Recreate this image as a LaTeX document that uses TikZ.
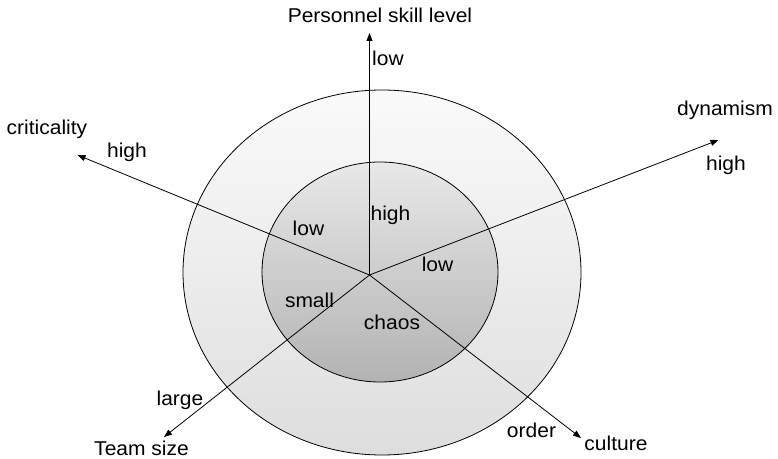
\documentclass[tikz,border=0pt]{standalone}
\usepackage{fontspec}
\setmainfont[FakeStretch=1.05]{Liberation Sans}
\usetikzlibrary{arrows.meta}
\begin{document}
\begin{tikzpicture}[x=1pt,y=1pt,
  lbl/.style={font=\fontsize{20}{24}\selectfont, inner sep=0pt},
  axis/.style={line width=0.8pt, -{Triangle[length=8pt,width=6pt]}},
  ring/.style={draw=black, line width=0.8pt}]
\useasboundingbox (0,0) rectangle (778,458);
% rings
\shade[ring, top color=black!2, bottom color=black!13] (382,185.5) ellipse [x radius=199, y radius=182.5];
\shade[ring, top color=black!9, bottom color=black!30] (380,186) ellipse [x radius=118, y radius=110];
% axis points
\coordinate (O) at (369.5,183);
\coordinate (skill) at (369.5,425);
\coordinate (crit) at (77.5,303);
\coordinate (dyn) at (718.5,318);
\coordinate (team) at (164,21);
\coordinate (cult) at (581,20);
\draw[axis] (O) -- (skill);
\draw[axis] (O) -- (crit);
\draw[axis] (O) -- (dyn);
\draw[axis] (O) -- (team);
\draw[axis] (O) -- (cult);
% labels
\node[lbl] (tskill) at (380,443) {Personnel skill level};
\node[lbl, anchor=west] (lskill) at (372,400) {low};
\node[lbl] (tcrit) at (47,329) {criticality};
\node[lbl] (hcrit) at (127,306) {high};
\node[lbl] (tdyn) at (725,348) {dynamism};
\node[lbl] (hdyn) at (726,293) {high};
\node[lbl] (lteam) at (180,58) {large};
\node[lbl] (tteam) at (141.5,10) {Team size};
\node[lbl] (ocult) at (531.5,28) {order};
\node[lbl] (tcult) at (616,15) {culture};
\node[lbl] (hskill) at (390.5,243) {high};
\node[lbl] (lcrit) at (308.5,230) {low};
\node[lbl] (ldyn) at (437.5,194) {low};
\node[lbl] (steam) at (309.5,158) {small};
\node[lbl] (ccult) at (392,136) {chaos};
\end{tikzpicture}
\end{document}
